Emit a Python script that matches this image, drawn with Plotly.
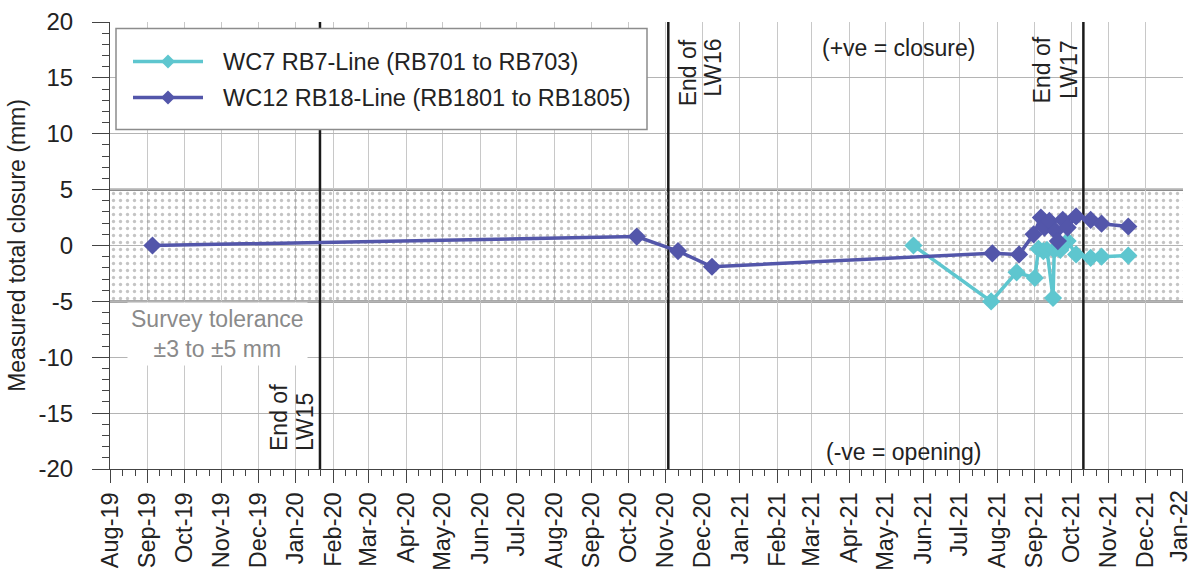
import pandas as pd
import plotly.graph_objects as go

# ---------------- data ----------------
wc7_name = "WC7 RB7-Line (RB701 to RB703)"
wc7_dates = ["2021-05-24", "2021-07-27", "2021-08-17", "2021-09-01", "2021-09-04",
             "2021-09-08", "2021-09-11", "2021-09-16", "2021-09-17", "2021-09-22",
             "2021-09-28", "2021-10-05", "2021-10-17", "2021-10-26", "2021-11-17"]
wc7_values = [0.0, -5.0, -2.4, -2.9, -0.3, -0.5, -0.4, -4.7, -0.4, -0.4,
              0.4, -0.8, -1.1, -1.0, -0.9]

wc12_name = "WC12 RB18-Line (RB1801 to RB1805)"
wc12_dates = ["2019-09-05", "2020-10-08", "2020-11-11", "2020-12-09", "2021-07-28",
              "2021-08-19", "2021-08-31", "2021-09-06", "2021-09-09", "2021-09-13",
              "2021-09-18", "2021-09-20", "2021-09-24", "2021-09-28", "2021-10-05",
              "2021-10-17", "2021-10-26", "2021-11-17"]
wc12_values = [0.0, 0.8, -0.5, -1.9, -0.7, -0.8, 1.0, 2.5, 1.6, 2.2,
               1.3, 0.4, 2.3, 1.6, 2.6, 2.3, 1.95, 1.7]

event_dates = ["2020-01-21", "2020-11-03", "2021-10-11"]
event_labels = ["End of<br>LW15", "End of<br>LW16", "End of<br>LW17"]

tolerance_low, tolerance_high = -5, 5
x_start, x_end = "2019-08-01", "2022-01-01 02:00"
y_min, y_max = -20, 20
y_tickvals = [-20, -15, -10, -5, 0, 5, 10, 15, 20]
y_ticktext = ["-20", "-15", "-10", "-5", "0", "5", "10", "15", "20"]
x_tickvals = pd.date_range("2019-08-01", "2022-01-01", freq="MS")
x_ticktext = ["Aug-19", "Sep-19", "Oct-19", "Nov-19", "Dec-19", "Jan-20", "Feb-20",
              "Mar-20", "Apr-20", "May-20", "Jun-20", "Jul-20", "Aug-20", "Sep-20",
              "Oct-20", "Nov-20", "Dec-20", "Jan-21", "Feb-21", "Mar-21", "Apr-21",
              "May-21", "Jun-21", "Jul-21", "Aug-21", "Sep-21", "Oct-21", "Nov-21",
              "Dec-21", "Jan-22"]

# ---------------- styling ----------------
FONT = "Liberation Sans, Arial, sans-serif"
TXT = "#222222"
CYAN = "#5EC6CF"
NAVY = "#5356AA"
L, R, T, B = 110, 9, 22, 106
W, H = 1192, 575
PW, PH = W - L - R, H - T - B


def px(xp):  # pixel -> paper x
    return (xp - L) / PW


def py(yp):  # pixel -> paper y
    return 1 - (yp - T) / PH


minor_ticks = []
for a, b in zip(x_tickvals[:-1], x_tickvals[1:]):
    d = (b - a) / 3
    minor_ticks += [a + d, a + 2 * d]

fig = go.Figure()

# tolerance band (dotted)
fig.add_trace(go.Scatter(
    x=[x_start, x_end, x_end, x_start, x_start],
    y=[tolerance_low, tolerance_low, tolerance_high, tolerance_high, tolerance_low],
    mode="lines", fill="toself", line=dict(width=0),
    fillcolor="rgba(0,0,0,0)",
    fillpattern=dict(shape=".", fgcolor="#8a8a8a", size=7, solidity=0.18),
    showlegend=False, hoverinfo="skip"))

series = [(wc7_name, wc7_dates, wc7_values, CYAN),
          (wc12_name, wc12_dates, wc12_values, NAVY)]
for name, xs, ys, col in series:
    fig.add_trace(go.Scatter(
        x=xs, y=ys, name=name, mode="lines+markers", showlegend=False,
        line=dict(color=col, width=3.5),
        marker=dict(symbol="diamond", size=14, color=col)))

# band edges
for yv in (tolerance_low, tolerance_high):
    fig.add_shape(type="line", xref="paper", x0=0, x1=1, yref="y", y0=yv, y1=yv,
                  line=dict(color="#8c8c8c", width=2.5), layer="between")

# event lines
for d in event_dates:
    fig.add_shape(type="line", xref="x", x0=d, x1=d, yref="y", y0=y_min, y1=y_max,
                  line=dict(color="#1a1a1a", width=2.5), layer="between")

ann_font = dict(family=FONT, size=23, color=TXT)
# event labels: each text line placed separately (rotated)
label_layout = [  # (x offsets of the two lines, vertical anchor)
    ((-41.5, -15), "bottom"),
    ((19.5, 44.5), "top"),
    ((-41.5, -15), "middle"),
]
for d, lab, (offs, va) in zip(event_dates, event_labels, label_layout):
    for part, off in zip(lab.split("<br>"), offs):
        if va == "bottom":
            yy, ya, ys = y_min, "bottom", 17
        elif va == "top":
            yy, ya, ys = y_max, "top", -16
        else:
            yy, ya, ys = y_max, "middle", -(69.5 - T)
        fig.add_annotation(x=d, y=yy, xref="x", yref="y", text=part, textangle=-90,
                           showarrow=False, xanchor="center", yanchor=ya,
                           xshift=off, yshift=ys, font=ann_font, borderpad=0)

fig.add_annotation(x=px(898), y=py(48), xref="paper", yref="paper", text="(+ve = closure)",
                   showarrow=False, xanchor="center", yanchor="middle", font=ann_font)
fig.add_annotation(x=px(903), y=py(452), xref="paper", yref="paper", text="(-ve = opening)",
                   showarrow=False, xanchor="center", yanchor="middle", font=ann_font)
fig.add_annotation(x=px(217), y=py(334), xref="paper", yref="paper",
                   text="Survey tolerance<br>±3 to ±5 mm", showarrow=False,
                   xanchor="center", yanchor="middle",
                   bgcolor="white", borderpad=3,
                   font=dict(family=FONT, size=23, color="#8a8a8a"))

# last x tick label, nudged inwards so it stays inside the picture
fig.add_annotation(x=px(1179), y=0, xref="paper", yref="paper", text=x_ticktext[-1],
                   textangle=-90, showarrow=False, xanchor="center", yanchor="top",
                   yshift=-20, borderpad=0,
                   font=dict(family=FONT, size=23.5, color=TXT))

# ---- legend (drawn as a boxed key) ----
fig.add_shape(type="rect", xref="paper", yref="paper",
              x0=px(116), x1=px(647), y0=py(129.5), y1=py(28.5),
              fillcolor="white", line=dict(color="#8c8c8c", width=1.5), layer="above")
for i, (name, xs, ys, col) in enumerate(series):
    yc = py(61.5 + 36 * i)
    fig.add_shape(type="line", xref="paper", yref="paper", x0=px(133), x1=px(203),
                  y0=yc, y1=yc, line=dict(color=col, width=3.5), layer="above")
    fig.add_shape(type="path", xref="paper", yref="paper", xsizemode="pixel",
                  ysizemode="pixel", xanchor=px(168), yanchor=yc,
                  path="M-7,0 L0,7 L7,0 L0,-7 Z", fillcolor=col,
                  line=dict(width=0), layer="above")
    fig.add_annotation(x=px(221), y=yc, xref="paper", yref="paper", text=name,
                       showarrow=False, xanchor="left", yanchor="middle",
                       font=dict(family=FONT, size=23.5, color=TXT))

fig.update_layout(
    width=W, height=H,
    margin=dict(l=L, r=R, t=T, b=B, autoexpand=False),
    paper_bgcolor="white", plot_bgcolor="white",
    font=dict(family=FONT, size=23, color=TXT),
    showlegend=False,
)

fig.update_xaxes(
    type="date", range=[x_start, x_end], automargin=False,
    tickmode="array", tickvals=x_tickvals, ticktext=x_ticktext[:-1] + [""],
    tickangle=-90, tickfont=dict(family=FONT, size=23.5, color=TXT),
    ticks="outside", ticklen=13, tickcolor="#444", tickwidth=1,
    showgrid=True, gridcolor="#c8c8c8", gridwidth=1,
    showline=True, linecolor="#444", linewidth=1,
    minor=dict(tickmode="array", tickvals=minor_ticks, ticks="outside",
               ticklen=6, tickcolor="#444", showgrid=False),
    zeroline=False)

fig.update_yaxes(
    range=[y_min, y_max], automargin=False,
    tickmode="array", tickvals=y_tickvals, ticktext=y_ticktext,
    tickfont=dict(family=FONT, size=24, color=TXT),
    ticks="outside", ticklen=17, tickcolor="#444", tickwidth=1,
    ticklabelstandoff=14,
    showgrid=True, gridcolor="#b4b4b4", gridwidth=1,
    showline=True, linecolor="#444", linewidth=1,
    minor=dict(dtick=1, ticks="outside", ticklen=7, tickcolor="#444", showgrid=False),
    zeroline=False,
    title=dict(text="Measured total closure (mm)", font=dict(family=FONT, size=23, color=TXT),
               standoff=6))

fig.write_html("out.html")
